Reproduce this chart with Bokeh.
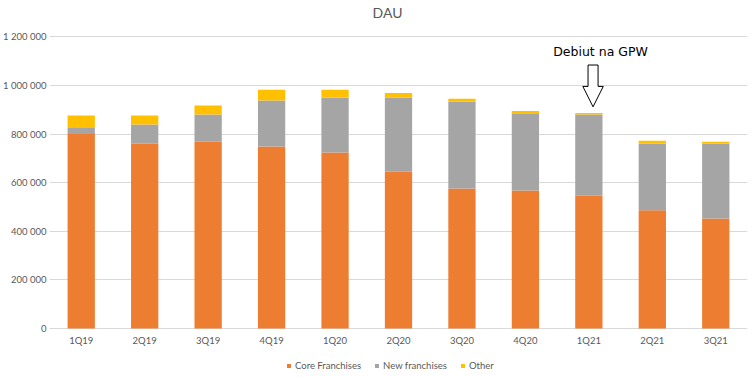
from bokeh.plotting import figure
from bokeh.models import FactorRange, Range1d, FixedTicker, CustomJSTickFormatter, Legend, LegendItem
from bokeh.core.properties import value
from bokeh.embed import file_html
from bokeh.resources import INLINE

# ---- data ----
quarters = ["1Q19", "2Q19", "3Q19", "4Q19", "1Q20", "2Q20", "3Q20", "4Q20", "1Q21", "2Q21", "3Q21"]
core_franchises = [800000, 760000, 768000, 749000, 724000, 645000, 576000, 568000, 546000, 486000, 453000]
new_franchises = [25000, 79000, 112000, 189000, 225000, 304000, 358000, 315000, 334000, 275000, 308000]
other = [51000, 37000, 37000, 44000, 33000, 20000, 11000, 12000, 7000, 11000, 7000]
series_names = ["Core Franchises", "New franchises", "Other"]
y_ticks = [0, 200000, 400000, 600000, 800000, 1000000, 1200000]
debut_quarter = "1Q21"
debut_text = "Debiut na GPW"
title_text = "DAU"

colors = ["#ED7D31", "#A5A5A5", "#FFC000"]
grey_text = "#595959"
font = "Lato"

# the frame reaches above the last tick (title) and below zero (axis labels + legend)
y_top = 1333000
y_bottom = -197500

p = figure(width=750, height=377, x_range=FactorRange(*quarters),
           y_range=Range1d(y_bottom, y_top), output_backend="svg",
           toolbar_location=None, min_border_left=49, min_border_right=3,
           min_border_top=4, min_border_bottom=1)
p.outline_line_color = None
p.background_fill_color = "white"

data = {"q": quarters, "core": core_franchises, "new": new_franchises, "other": other}
renderers = p.vbar_stack(["core", "new", "other"], x="q", width=0.43, source=data,
                         color=colors, line_color=None)

# axes
p.xgrid.grid_line_color = None
p.ygrid.grid_line_color = "#D9D9D9"
p.ygrid.grid_line_width = 1
p.yaxis.ticker = FixedTicker(ticks=y_ticks)
p.yaxis.formatter = CustomJSTickFormatter(
    code='return tick.toFixed(0).replace(/\\B(?=(\\d{3})+(?!\\d))/g, " ");')
p.xaxis.fixed_location = 0
for ax in (p.xaxis, p.yaxis):
    ax.axis_line_color = None
    ax.major_tick_line_color = None
    ax.minor_tick_line_color = None
    ax.major_tick_out = 0
    ax.major_tick_in = 0
    ax.major_label_text_color = grey_text
    ax.major_label_text_font = font
p.yaxis.major_label_text_font_size = "9.5px"
p.yaxis.major_label_standoff = 3
p.xaxis.major_label_text_font_size = "9.5px"
p.xaxis.major_label_standoff = 7

# title (drawn inside the frame, above the last gridline)
x_title = quarters.index("2Q20") + 0.5 - 0.173
p.text(x=[x_title], y=[1301000], text=[title_text], text_font=value(font),
       text_font_size="14px", text_color=grey_text, text_align="center",
       text_baseline="middle")

# debut annotation: block arrow pointing at the debut quarter
xc = quarters.index(debut_quarter) + 0.5 + 0.066
sw, hw = 0.079, 0.161
top, base, tip = 1084000, 996000, 912000
p.patch(x=[xc - sw, xc + sw, xc + sw, xc + hw, xc, xc - hw, xc - sw],
        y=[top, top, base, base, tip, base, base],
        fill_color="white", line_color="black", line_width=1)
p.text(x=[xc + 0.118], y=[1138000], text=[debut_text], text_font=value("DejaVu Sans"),
       text_font_size="12.5px", text_color="black", text_align="center",
       text_baseline="middle")

# legend
legend = Legend(items=[LegendItem(label=n, renderers=[r]) for n, r in zip(series_names, renderers)],
                location=(237, 5), orientation="horizontal",
                glyph_width=5, glyph_height=5, label_height=10, label_standoff=4,
                spacing=13, padding=0, margin=0, border_line_color=None,
                background_fill_alpha=0, label_text_font=font,
                label_text_font_size="9.5px", label_text_color=grey_text)
p.add_layout(legend)

open("out.html", "w").write(file_html(p, INLINE))
